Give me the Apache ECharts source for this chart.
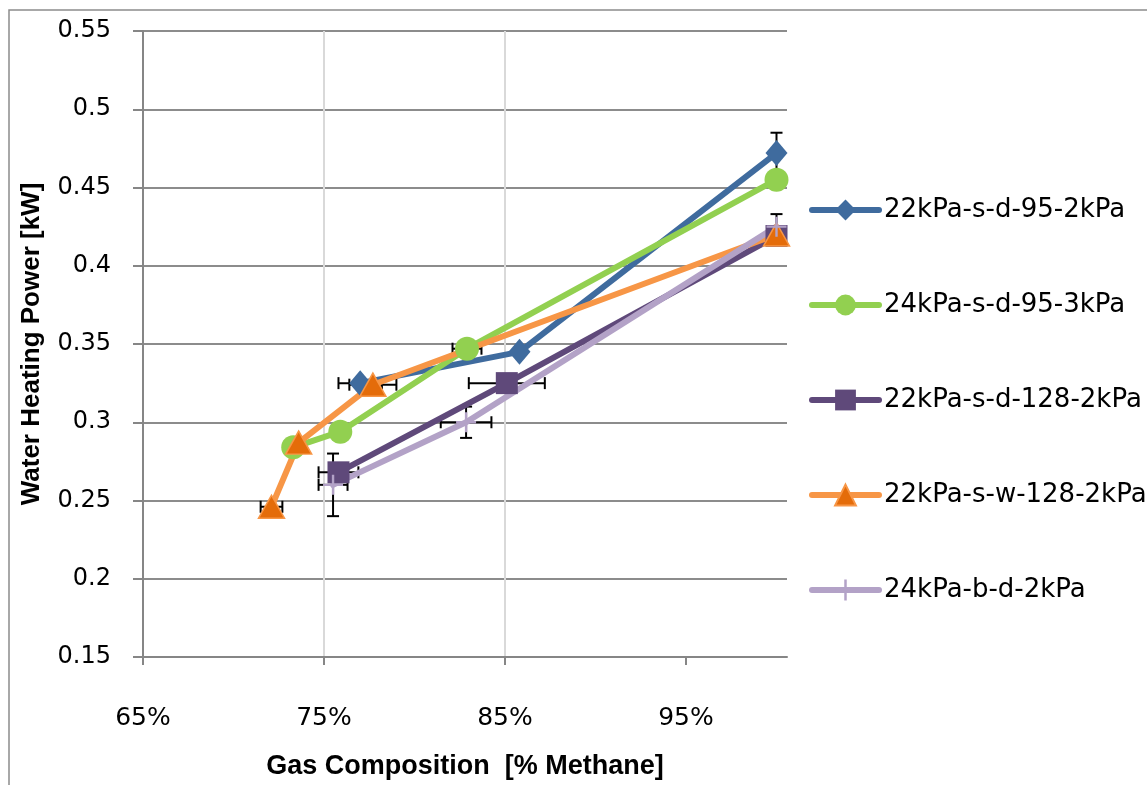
<!DOCTYPE html>
<html>
<head>
<meta charset="utf-8">
<script src="https://cdn.jsdelivr.net/npm/echarts@6/dist/echarts.min.js"></script>
<style>html,body{margin:0;padding:0;background:#fff;}#c{width:1147px;height:785px;}</style>
</head>
<body>
<div id="c"></div>
<script>
// ---- data ----
const seriesNames = ['22kPa-s-d-95-2kPa','24kPa-s-d-95-3kPa','22kPa-s-d-128-2kPa','22kPa-s-w-128-2kPa','24kPa-b-d-2kPa'];
const xTicks = [65, 75, 85, 95];
const yTicks = [0.15, 0.2, 0.25, 0.3, 0.35, 0.4, 0.45, 0.5, 0.55];

const s1x = [77.0, 85.8, 100];
const s1y = [0.325, 0.345, 0.472];
const s1xe = [1.2, 0, 0];
const s1ye = [0, 0, 0.013];

const s2x = [73.3, 75.9, 82.9, 100];
const s2y = [0.284, 0.294, 0.347, 0.455];
const s2xe = [0, 0, 0.8, 0];
const s2ye = [0, 0, 0, 0];

const s3x = [75.8, 85.1, 100];
const s3y = [0.268, 0.325, 0.419];
const s3xe = [1.1, 2.1, 0];
const s3ye = [0, 0, 0];

const s4x = [72.1, 73.6, 77.7, 100];
const s4y = [0.246, 0.287, 0.324, 0.420];
const s4xe = [0.6, 0, 1.3, 0];
const s4ye = [0, 0, 0, 0];

const s5x = [75.5, 82.85, 100];
const s5y = [0.260, 0.300, 0.425];
const s5xe = [0.8, 1.4, 0];
const s5ye = [0.02, 0.01, 0.008];

// ---- build ----
const colors = ['#3F6B9E', '#92D050', '#5F497A', '#F79646', '#B3A2C7'];
const symbols = ['diamond', 'circle', 'rect', 'triangle', 'path://M-1.2,-10 h2.4 v20 h-2.4 z M-10,-1.2 h20 v2.4 h-20 z'];
const sizes = [[22, 26], 24, 22, [26, 23], 20];
const xs = [s1x, s2x, s3x, s4x, s5x];
const ys = [s1y, s2y, s3y, s4y, s5y];
const xes = [s1xe, s2xe, s3xe, s4xe, s5xe];
const yes = [s1ye, s2ye, s3ye, s4ye, s5ye];

function renderErr(params, api) {
  const x = api.value(0), y = api.value(1), xe = api.value(2), ye = api.value(3);
  const st = { stroke: '#000', lineWidth: 2 };
  const cap = 6;
  const ch = [];
  if (xe > 0) {
    const a = api.coord([x - xe, y]), b = api.coord([x + xe, y]);
    ch.push({ type: 'line', shape: { x1: a[0], y1: a[1], x2: b[0], y2: b[1] }, style: st });
    ch.push({ type: 'line', shape: { x1: a[0], y1: a[1] - cap, x2: a[0], y2: a[1] + cap }, style: st });
    ch.push({ type: 'line', shape: { x1: b[0], y1: b[1] - cap, x2: b[0], y2: b[1] + cap }, style: st });
  }
  if (ye > 0) {
    const a = api.coord([x, y - ye]), b = api.coord([x, y + ye]);
    ch.push({ type: 'line', shape: { x1: a[0], y1: a[1], x2: b[0], y2: b[1] }, style: st });
    ch.push({ type: 'line', shape: { x1: a[0] - cap, y1: a[1], x2: a[0] + cap, y2: a[1] }, style: st });
    ch.push({ type: 'line', shape: { x1: b[0] - cap, y1: b[1], x2: b[0] + cap, y2: b[1] }, style: st });
  }
  return { type: 'group', children: ch };
}

const series = [];
for (let i = 0; i < 5; i++) {
  series.push({
    name: 'err' + i,
    type: 'custom',
    renderItem: renderErr,
    encode: { x: 0, y: 1 },
    data: xs[i].map((v, j) => [v, ys[i][j], xes[i][j], yes[i][j]]),
    z: 1,
    silent: true
  });
}
for (let i = 0; i < 5; i++) {
  series.push({
    name: seriesNames[i],
    type: 'line',
    data: xs[i].map((v, j) => [v, ys[i][j]]),
    symbol: symbols[i],
    symbolSize: sizes[i],
    showAllSymbol: true,
    lineStyle: { color: colors[i], width: 6, cap: 'round', join: 'round' },
    itemStyle: i === 3 ? { color: '#E46C0A', borderColor: '#F79646', borderWidth: 1.5 } : { color: colors[i] },
    z: 2,
    animation: false
  });
}

const chart = echarts.init(document.getElementById('c'), null, { renderer: 'canvas' });
chart.setOption({
  animation: false,
  backgroundColor: '#fff',
  grid: { left: 143, top: 31, width: 644, height: 630, containLabel: false },
  graphic: [{
    type: 'rect', shape: { x: 9, y: 10, width: 1300, height: 900 },
    style: { fill: 'none', stroke: '#8c8c8c', lineWidth: 1.5 }, silent: true, z: -1
  }],
  legend: {
    data: seriesNames,
    orient: 'vertical',
    left: 809,
    top: 197,
    padding: 0,
    itemWidth: 67,
    itemHeight: 26,
    itemGap: 69,
    lineStyle: { width: 6 },
    textStyle: { fontFamily: 'DejaVu Sans', fontSize: 26, lineHeight: 26, color: '#000' },
    selectedMode: false
  },
  xAxis: {
    type: 'value',
    min: 65,
    max: 100.58,
    interval: 10,
    axisLine: { show: true, lineStyle: { color: '#868686', width: 2 } },
    axisTick: { show: true, length: 8, customValues: xTicks, lineStyle: { color: '#868686', width: 2 } },
    axisLabel: { customValues: xTicks, formatter: v => v + '%', fontFamily: 'DejaVu Sans', fontSize: 25, color: '#000', margin: 49 },
    splitLine: { show: true, showMaxLine: false, showMinLine: false, lineStyle: { color: '#d9d9d9', width: 2 } },
    name: 'Gas Composition  [% Methane]',
    nameLocation: 'middle',
    nameGap: 96,
    nameTextStyle: { fontFamily: 'Liberation Sans', fontWeight: 'bold', fontSize: 27, color: '#000' }
  },
  yAxis: {
    type: 'value',
    min: 0.15,
    max: 0.55,
    interval: 0.05,
    axisLine: { show: true, lineStyle: { color: '#868686', width: 2 } },
    axisTick: { show: true, length: 10, lineStyle: { color: '#868686', width: 2 } },
    axisLabel: { fontFamily: 'DejaVu Sans', fontSize: 24, color: '#000', margin: 32,
      formatter: v => String(Math.round(v * 100) / 100) },
    splitLine: { show: true, lineStyle: { color: '#8c8c8c', width: 2 } },
    name: 'Water Heating Power [kW]',
    nameLocation: 'middle',
    nameGap: 98,
    nameTextStyle: { fontFamily: 'Liberation Sans', fontWeight: 'bold', fontSize: 26, color: '#000' }
  },
  series: series
});
</script>
</body>
</html>
